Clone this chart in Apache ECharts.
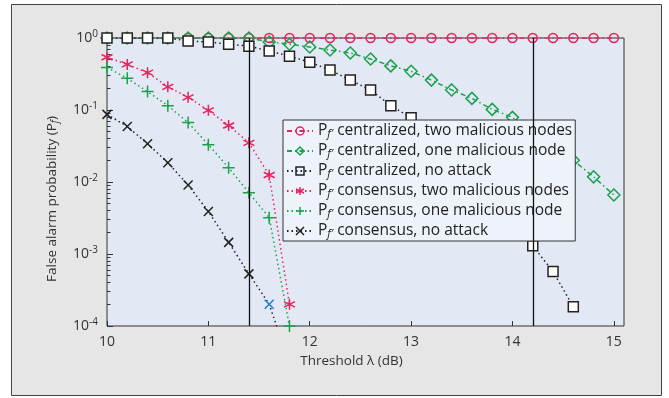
<!DOCTYPE html>
<html>
<head>
<meta charset="utf-8">
<script src="https://cdn.jsdelivr.net/npm/echarts@6/dist/echarts.min.js"></script>
<style>
  html, body { margin: 0; padding: 0; background: #fff; }
  #chart { width: 669px; height: 398px; }
</style>
</head>
<body>
<div id="chart"></div>
<script>
// threshold values (dB)
const thresholds = [10, 10.2, 10.4, 10.6, 10.8, 11, 11.2, 11.4, 11.6, 11.8, 12, 12.2, 12.4,
  12.6, 12.8, 13, 13.2, 13.4, 13.6, 13.8, 14, 14.2, 14.4, 14.6, 14.8, 15]

const centralTwo = [1, 1, 1, 1, 1, 1, 1, 1, 1, 1, 1, 1, 1,
  1, 1, 1, 1, 1, 1, 1, 1, 1, 1, 1, 1, 1]
const centralOne = [1, 1, 1, 1, 1, 1, 1, 1, 0.88, 0.82, 0.75, 0.68, 0.62,
  0.51, 0.41, 0.345, 0.26, 0.19, 0.145, 0.102, 0.079, 0.047, 0.032, 0.02, 0.0118, 0.0066]
const centralNone = [1, 1, 1, 1, 0.91, 0.88, 0.82, 0.77, 0.66, 0.56, 0.46, 0.36, 0.26,
  0.19, 0.115, 0.078, 0.048, 0.027, 0.0145, 0.0074, 0.0033, 0.0013, 0.00057, 0.000185]
const consTwo = [0.54, 0.43, 0.33, 0.21, 0.15, 0.099, 0.061, 0.035, 0.0125, 0.0002]
const consOne = [0.39, 0.275, 0.18, 0.115, 0.067, 0.033, 0.0158, 0.0071, 0.0032, 0.0001]
const consNone = [0.087, 0.059, 0.034, 0.0185, 0.0091, 0.0039, 0.00145, 0.00053, 0.0002, 0.00003]

const markerLines = [11.4, 14.2]
const xTicks = [10, 11, 12, 13, 14, 15]
const yMinorTicks = [
  0.0001, 0.0002, 0.0003, 0.0004, 0.0005, 0.0006, 0.0007, 0.0008, 0.0009,
  0.001, 0.002, 0.003, 0.004, 0.005, 0.006, 0.007, 0.008, 0.009,
  0.01, 0.02, 0.03, 0.04, 0.05, 0.06, 0.07, 0.08, 0.09,
  0.1, 0.2, 0.3, 0.4, 0.5, 0.6, 0.7, 0.8, 0.9, 1
]

const names = [
  'centralized, two malicious nodes',
  'centralized, one malicious node',
  'centralized, no attack',
  'consensus, two malicious nodes',
  'consensus, one malicious node',
  'consensus, no attack',
]

const RED = '#e5245f'
const GREEN = '#1aa14b'
const BLACK = '#222'
const FONT = 'Open Sans'

const pair = (ys) => ys.map((y, i) => [thresholds[i], y])

const ASTERISK = 'path://M0,-5L0,5M-4.3,-2.5L4.3,2.5M-4.3,2.5L4.3,-2.5'
const PLUS = 'path://M0,-5L0,5M-5,0L5,0'
const CROSS = 'path://M-4,-4L4,4M-4,4L4,-4'

const dashDot = [5, 3, 1.5, 3]
const dotted = [1.5, 3]

function makeSeries(name, ys, color, symbol, size, dash, fill) {
  return {
    name,
    type: 'line',
    data: pair(ys),
    symbol,
    symbolSize: size,
    itemStyle: { color: fill, borderColor: color, borderWidth: 1.5 },
    lineStyle: { color, width: 1.5, type: dash },
    emphasis: { disabled: true },
    clip: true,
  }
}

const chart = echarts.init(document.getElementById('chart'))

const noneData = pair(consNone)
noneData[8] = { value: noneData[8], itemStyle: { borderColor: '#1f7fd0' } }

const series = [
  makeSeries(names[0], centralTwo, RED, 'circle', 9, dashDot, 'rgba(0,0,0,0)'),
  makeSeries(names[1], centralOne, GREEN, 'diamond', 12, dashDot, 'rgba(0,0,0,0)'),
  makeSeries(names[2], centralNone, BLACK, 'rect', 10, dotted, '#fff'),
  makeSeries(names[3], consTwo, RED, ASTERISK, 11, dotted, 'rgba(0,0,0,0)'),
  makeSeries(names[4], consOne, GREEN, PLUS, 12, dotted, 'rgba(0,0,0,0)'),
  makeSeries(names[5], consNone, BLACK, CROSS, 9, dotted, 'rgba(0,0,0,0)'),
]
series[5].data = noneData
series[0].markLine = {
  silent: true,
  symbol: 'none',
  label: { show: false },
  lineStyle: { color: '#111', type: 'solid', width: 1.3 },
  data: markerLines.map((v) => ({ xAxis: v })),
}

const option = {
  backgroundColor: '#fff',
  animation: false,
  textStyle: { fontFamily: FONT },
  graphic: [
    {
      type: 'rect',
      z: -10,
      shape: { x: 11.5, y: 4.5, width: 650, height: 391 },
      style: { fill: '#e6e6e6', stroke: '#444', lineWidth: 1 },
    },
  ],
  grid: {
    left: 107,
    right: 45,
    top: 38,
    bottom: 72,
    show: true,
    backgroundColor: '#e2e9f5',
    borderColor: '#333',
    borderWidth: 1,
  },
  legend: {
    data: names,
    orient: 'vertical',
    left: 283,
    top: 120,
    backgroundColor: '#eef3fb',
    borderColor: '#333',
    borderWidth: 1,
    borderRadius: 0,
    padding: [2, 3, 2, 3],
    itemWidth: 26,
    itemHeight: 10,
    itemGap: 3,
    selectedMode: false,
    itemStyle: { color: 'rgba(0,0,0,0)', borderWidth: 1.5 },
    formatter: (name) => 'P{sub|f\u2032} ' + name,
    textStyle: {
      fontFamily: FONT,
      fontSize: 15.5,
      lineHeight: 16,
      color: '#222',
      rich: {
        sub: { fontSize: 11, fontStyle: 'italic', verticalAlign: 'bottom', lineHeight: 16, padding: [6, 0, 0, 0] },
      },
    },
  },
  xAxis: {
    type: 'value',
    min: 10,
    max: 15.1,
    interval: 1,
    name: 'Threshold \u03bb (dB)',
    nameLocation: 'middle',
    nameGap: 28,
    nameTextStyle: { fontSize: 13.5, color: '#333', padding: [0, 28, 0, 0] },
    axisLine: { show: false },
    axisTick: { inside: true, length: 5, lineStyle: { color: '#333' }, customValues: xTicks },
    axisLabel: { color: '#333', fontSize: 14, margin: 9, customValues: xTicks },
    splitLine: { show: false },
  },
  yAxis: [
    {
      type: 'log',
      min: 0.0001,
      max: 1,
      name: 'False alarm probability (P{sub|f})',
      nameLocation: 'middle',
      nameGap: 47,
      nameTextStyle: {
        fontSize: 13.5,
        color: '#333',
        padding: [0, 34, 0, 0],
        rich: { sub: { fontSize: 10, fontStyle: 'italic', verticalAlign: 'bottom', padding: [6, 0, 0, 0] } },
      },
      axisLine: { show: false },
      axisTick: { inside: true, length: 6, lineStyle: { color: '#333' } },
      axisLabel: {
        color: '#333',
        fontSize: 14,
        margin: 9,
        formatter: (v) => '10{sup|' + Math.round(Math.log10(v)) + '}',
        rich: { sup: { fontSize: 10, verticalAlign: 'top', padding: [0, 0, 8, 0] } },
      },
      splitLine: { show: false },
    },
    {
      type: 'log',
      min: 0.0001,
      max: 1,
      position: 'left',
      axisLine: { show: false },
      axisLabel: { show: false },
      axisTick: { inside: true, length: 3.5, lineStyle: { color: '#333' }, customValues: yMinorTicks },
      splitLine: { show: false },
    },
  ],
  series,
}

chart.setOption(option)
</script>
</body>
</html>
